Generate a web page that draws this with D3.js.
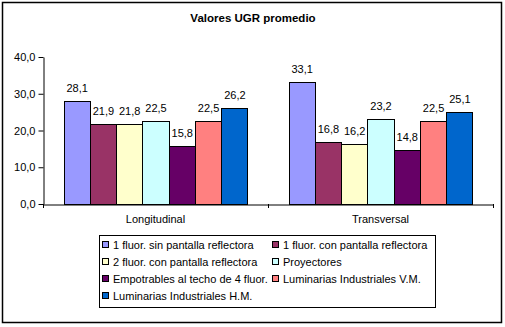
<!DOCTYPE html>
<html><head><meta charset="utf-8">
<script src="https://cdn.jsdelivr.net/npm/d3@7"></script>
<style>body{margin:0;background:#fff}svg{display:block;font-family:"Liberation Sans",Arial,sans-serif}</style>
</head><body><svg id="c" width="505" height="327"></svg>
<script>
const categories = ["Longitudinal", "Transversal"];
const seriesNames = [
  "1 fluor. sin pantalla reflectora",
  "1 fluor. con pantalla reflectora",
  "2 fluor. con pantalla reflectora",
  "Proyectores",
  "Empotrables al techo de 4 fluor.",
  "Luminarias Industriales V.M.",
  "Luminarias Industriales H.M."
];
const longitudinal = [28.1, 21.9, 21.8, 22.5, 15.8, 22.5, 26.2];
const transversal = [33.1, 16.8, 16.2, 23.2, 14.8, 22.5, 25.1];
const yTicks = [0, 10, 20, 30, 40];
const colors = ["#9999FF", "#993366", "#FFFFCC", "#CCFFFF", "#660066", "#FF8080", "#0066CC"];
const title = "Valores UGR promedio";

const values = [longitudinal, transversal];
const svg = d3.select("#c");
const fmt = v => d3.format(".1f")(v).replace(".", ",");

// outer border
svg.append("rect").attr("x", 2.5).attr("y", 2.5).attr("width", 499).attr("height", 320)
  .attr("fill", "#fff").attr("stroke", "#000").attr("stroke-width", 1.5);

svg.append("text").attr("x", 253).attr("y", 22).attr("text-anchor", "middle")
  .attr("font-size", 11.5).attr("font-weight", "bold").text(title);

const pLeft = 43, pRight = 493, pTop = 57, pBottom = 204;
const x0 = d3.scaleBand().domain(categories).range([pLeft, pRight]).paddingInner(0).paddingOuter(0);
const x1 = d3.scaleBand().domain(d3.range(seriesNames.length)).range([0, x0.bandwidth()]).paddingInner(0).paddingOuter(0.78);
const y = d3.scaleLinear().domain([0, 40]).range([pBottom, pTop]);

// y axis
const yAxis = d3.axisLeft(y).tickValues(yTicks).tickFormat(fmt).tickSize(5).tickSizeOuter(0);
const gy = svg.append("g").attr("transform", `translate(${pLeft + 0.5},0)`).call(yAxis);
gy.selectAll("text").attr("font-size", 11).attr("font-family", "Liberation Sans, Arial, sans-serif").attr("fill", "#000").attr("x", -8);
gy.selectAll("line,path").attr("stroke", "#000");

// bars
const groups = svg.append("g").selectAll("g").data(categories).join("g")
  .attr("transform", d => `translate(${x0(d)},0)`);
groups.each(function(cat, ci) {
  const g = d3.select(this);
  const vals = values[ci];
  g.selectAll("rect").data(vals).join("rect")
    .attr("x", (d, i) => Math.round(x1(i)) + 0.5)
    .attr("y", d => Math.round(y(d)) + 0.5)
    .attr("width", (d, i) => Math.round(x1(i) + x1.bandwidth()) - Math.round(x1(i)))
    .attr("height", d => pBottom - Math.round(y(d)))
    .attr("fill", (d, i) => colors[i])
    .attr("stroke", "#000").attr("stroke-width", 1);
  g.selectAll("text").data(vals).join("text")
    .attr("x", (d, i) => x1(i) + x1.bandwidth() / 2 + 0.5)
    .attr("y", d => y(d) - 9)
    .attr("text-anchor", "middle").attr("font-size", 11).text(d => fmt(d));
});

// x axis
const xAxis = d3.axisBottom(x0).tickSize(0).tickSizeOuter(0);
const gx = svg.append("g").attr("transform", `translate(0,${pBottom + 0.5})`).call(xAxis);
gx.select("path").attr("stroke", "#000");
gx.selectAll("text").attr("font-size", 11).attr("font-family", "Liberation Sans, Arial, sans-serif").attr("fill", "#000").attr("dy", 0).attr("y", 18);
// category boundary ticks
const bounds = [pLeft, x0(categories[1]), pRight];
svg.append("g").selectAll("line").data(bounds).join("line")
  .attr("x1", d => Math.round(d) + 0.5).attr("x2", d => Math.round(d) + 0.5)
  .attr("y1", pBottom).attr("y2", pBottom + 4).attr("stroke", "#000");

// legend
const lg = svg.append("g");
lg.append("rect").attr("x", 99.5).attr("y", 235.5).attr("width", 336).attr("height", 72)
  .attr("fill", "#fff").attr("stroke", "#000");
const items = lg.selectAll("g").data(seriesNames).join("g")
  .attr("transform", (d, i) => `translate(${i % 2 === 0 ? 102 : 272},${245 + Math.floor(i / 2) * 17})`);
items.append("rect").attr("x", 0.5).attr("y", -3.5).attr("width", 6).attr("height", 6)
  .attr("fill", (d, i) => colors[i]).attr("stroke", "#000");
items.append("text").attr("x", 11).attr("y", 4).attr("font-size", 11).text(d => d);
</script></body></html>
